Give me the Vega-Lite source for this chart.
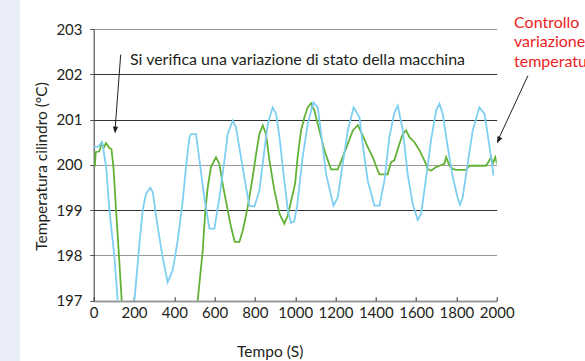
{
  "$schema": "https://vega.github.io/schema/vega-lite/v6.json",
  "autosize": "none",
  "width": 403,
  "height": 271.7,
  "padding": {"left": 93.7, "top": 29, "right": 88.3, "bottom": 60.3},
  "background": "white",
  "config": {"font": "Lato", "view": {"stroke": null}},
  "data": {"values": [{"note": "annotation"}]},
  "datasets": {
    "green": [
      {"t": 0, "T": 199.98}, {"t": 6, "T": 199.98}, {"t": 10, "T": 200.28}, {"t": 28, "T": 200.3},
      {"t": 40, "T": 200.48}, {"t": 50, "T": 200.38}, {"t": 61, "T": 200.48}, {"t": 78, "T": 200.37},
      {"t": 88, "T": 200.35}, {"t": 98, "T": 199.95}, {"t": 111, "T": 199.0}, {"t": 124, "T": 198.1},
      {"t": 139, "T": 197.0}, {"t": 300, "T": 195.5}, {"t": 516, "T": 197.0}, {"t": 541, "T": 198.1},
      {"t": 554, "T": 199.0}, {"t": 566, "T": 199.5}, {"t": 582, "T": 199.95}, {"t": 607, "T": 200.17},
      {"t": 624, "T": 200.02}, {"t": 640, "T": 199.58}, {"t": 665, "T": 199.0}, {"t": 682, "T": 198.62},
      {"t": 700, "T": 198.3}, {"t": 723, "T": 198.3}, {"t": 740, "T": 198.55}, {"t": 764, "T": 199.06},
      {"t": 789, "T": 199.73}, {"t": 806, "T": 200.24}, {"t": 822, "T": 200.68}, {"t": 839, "T": 200.87},
      {"t": 855, "T": 200.68}, {"t": 872, "T": 200.1}, {"t": 897, "T": 199.43}, {"t": 922, "T": 198.92},
      {"t": 946, "T": 198.7}, {"t": 963, "T": 198.88}, {"t": 988, "T": 199.36}, {"t": 1000, "T": 199.6},
      {"t": 1012, "T": 200.17}, {"t": 1029, "T": 200.76}, {"t": 1046, "T": 201.05}, {"t": 1062, "T": 201.27},
      {"t": 1079, "T": 201.36}, {"t": 1095, "T": 201.2}, {"t": 1112, "T": 200.9}, {"t": 1129, "T": 200.61},
      {"t": 1145, "T": 200.32}, {"t": 1162, "T": 200.1}, {"t": 1178, "T": 199.9}, {"t": 1211, "T": 199.9},
      {"t": 1236, "T": 200.17}, {"t": 1261, "T": 200.46}, {"t": 1286, "T": 200.76}, {"t": 1311, "T": 200.88},
      {"t": 1335, "T": 200.65}, {"t": 1360, "T": 200.39}, {"t": 1385, "T": 200.17}, {"t": 1410, "T": 199.87},
      {"t": 1418, "T": 199.79}, {"t": 1459, "T": 199.79}, {"t": 1476, "T": 200.06}, {"t": 1492, "T": 200.1},
      {"t": 1517, "T": 200.46}, {"t": 1534, "T": 200.68}, {"t": 1550, "T": 200.76}, {"t": 1567, "T": 200.61},
      {"t": 1592, "T": 200.5}, {"t": 1617, "T": 200.32}, {"t": 1641, "T": 200.1}, {"t": 1658, "T": 199.91},
      {"t": 1674, "T": 199.87}, {"t": 1699, "T": 199.95}, {"t": 1716, "T": 199.98}, {"t": 1740, "T": 200.02},
      {"t": 1749, "T": 200.17}, {"t": 1766, "T": 199.98}, {"t": 1782, "T": 199.91}, {"t": 1798, "T": 199.89},
      {"t": 1848, "T": 199.89}, {"t": 1865, "T": 199.98}, {"t": 1947, "T": 199.98}, {"t": 1964, "T": 200.1},
      {"t": 1972, "T": 200.17}, {"t": 1980, "T": 200.02}, {"t": 1993, "T": 200.17}, {"t": 2002, "T": 200.02}
    ],
    "blue": [
      {"t": 0, "T": 200.39}, {"t": 20, "T": 200.4}, {"t": 42, "T": 200.5}, {"t": 62, "T": 199.95},
      {"t": 78, "T": 199.0}, {"t": 103, "T": 197.96}, {"t": 119, "T": 197.0}, {"t": 160, "T": 196.3},
      {"t": 202, "T": 197.0}, {"t": 227, "T": 198.26}, {"t": 243, "T": 199.0}, {"t": 260, "T": 199.37},
      {"t": 281, "T": 199.49}, {"t": 293, "T": 199.4}, {"t": 318, "T": 198.62}, {"t": 342, "T": 197.96},
      {"t": 367, "T": 197.41}, {"t": 392, "T": 197.67}, {"t": 417, "T": 198.33}, {"t": 442, "T": 199.21},
      {"t": 458, "T": 199.95}, {"t": 475, "T": 200.61}, {"t": 483, "T": 200.68}, {"t": 508, "T": 200.68},
      {"t": 525, "T": 200.1}, {"t": 549, "T": 199.28}, {"t": 574, "T": 198.59}, {"t": 599, "T": 198.59},
      {"t": 624, "T": 199.28}, {"t": 649, "T": 200.1}, {"t": 665, "T": 200.68}, {"t": 690, "T": 200.98},
      {"t": 706, "T": 200.83}, {"t": 731, "T": 200.17}, {"t": 756, "T": 199.5}, {"t": 773, "T": 199.1},
      {"t": 798, "T": 199.08}, {"t": 822, "T": 199.43}, {"t": 847, "T": 200.32}, {"t": 864, "T": 200.9},
      {"t": 888, "T": 201.27}, {"t": 905, "T": 201.13}, {"t": 922, "T": 200.61}, {"t": 946, "T": 199.65},
      {"t": 965, "T": 198.95}, {"t": 980, "T": 198.72}, {"t": 995, "T": 198.75}, {"t": 1010, "T": 199.1},
      {"t": 1037, "T": 200.17}, {"t": 1062, "T": 200.9}, {"t": 1090, "T": 201.38}, {"t": 1112, "T": 201.27},
      {"t": 1129, "T": 200.68}, {"t": 1153, "T": 199.8}, {"t": 1190, "T": 199.1}, {"t": 1211, "T": 199.28},
      {"t": 1236, "T": 200.02}, {"t": 1261, "T": 200.76}, {"t": 1290, "T": 201.27}, {"t": 1319, "T": 201.05},
      {"t": 1335, "T": 200.46}, {"t": 1360, "T": 199.65}, {"t": 1393, "T": 199.1}, {"t": 1418, "T": 199.1},
      {"t": 1443, "T": 199.65}, {"t": 1467, "T": 200.6}, {"t": 1492, "T": 201.15}, {"t": 1509, "T": 201.31},
      {"t": 1534, "T": 200.76}, {"t": 1558, "T": 199.8}, {"t": 1583, "T": 199.14}, {"t": 1608, "T": 198.78},
      {"t": 1625, "T": 198.92}, {"t": 1650, "T": 199.73}, {"t": 1674, "T": 200.54}, {"t": 1699, "T": 201.2},
      {"t": 1716, "T": 201.35}, {"t": 1732, "T": 201.13}, {"t": 1757, "T": 200.39}, {"t": 1782, "T": 199.73},
      {"t": 1806, "T": 199.28}, {"t": 1818, "T": 199.12}, {"t": 1831, "T": 199.28}, {"t": 1856, "T": 200.02},
      {"t": 1881, "T": 200.76}, {"t": 1914, "T": 201.27}, {"t": 1939, "T": 201.13}, {"t": 1955, "T": 200.68},
      {"t": 1972, "T": 200.17}, {"t": 1984, "T": 199.76}
    ]
  },
  "layer": [
    {
      "mark": {"type": "rect", "color": "#e9eef8", "clip": false},
      "encoding": {
        "x": {"datum": -470, "type": "quantitative"},
        "x2": {"datum": -366},
        "y": {"datum": 195.4, "type": "quantitative"},
        "y2": {"datum": 204}
      }
    },
    {
      "data": {"name": "green"},
      "mark": {"type": "line", "color": "#62b236", "strokeWidth": 1.8, "clip": true},
      "encoding": {
        "x": {
          "field": "t", "type": "quantitative",
          "scale": {"domain": [0, 2000], "nice": false, "zero": false},
          "axis": {
            "values": [0, 200, 400, 600, 800, 1000, 1200, 1400, 1600, 1800, 2000],
            "format": "d", "labelOverlap": false, "labelFlush": false,
            "title": "Tempo (S)", "grid": false, "domain": false,
            "tickSize": -4, "tickColor": "#333", "labelPadding": 9,
            "labelFontSize": 15, "labelColor": "#231f20",
            "titleFontSize": 15.5, "titleFontWeight": "normal", "titleColor": "#231f20",
            "titleX": 176, "titleY": 51, "titleBaseline": "middle", "titleAlign": "center"
          }
        },
        "y": {
          "field": "T", "type": "quantitative",
          "scale": {"domain": [197, 203], "nice": false, "zero": false},
          "axis": {
            "values": [197, 198, 199, 200, 201, 202, 203],
            "labelOverlap": false, "labelFlush": false,
            "title": "Temperatura cilindro (°C)",
            "grid": true,
            "gridColor": {"condition": {"test": "datum.value == 201 || datum.value == 199 || datum.value == 202", "value": "#333"}, "value": "#999"},
            "gridWidth": {"condition": {"test": "datum.value == 197", "value": 2}, "value": 1},
            "domainColor": "#333", "tickColor": "#555", "tickSize": 4, "labelPadding": 7.7,
            "labelFontSize": 15, "labelColor": "#231f20",
            "titleFontSize": 15.5, "titleFontWeight": "normal", "titleColor": "#231f20",
            "titleX": -52, "titleY": 137, "titleBaseline": "middle", "titleAlign": "center", "titleAngle": 270
          }
        }
      }
    },
    {
      "data": {"name": "blue"},
      "mark": {"type": "line", "color": "#7fcff2", "strokeWidth": 1.8, "clip": true},
      "encoding": {
        "x": {"field": "t", "type": "quantitative"},
        "y": {"field": "T", "type": "quantitative"}
      }
    },
    {
      "mark": {"type": "rule", "color": "#231f20", "strokeWidth": 1, "clip": false},
      "encoding": {
        "x": {"datum": 134, "type": "quantitative"},
        "y": {"datum": 202.435, "type": "quantitative"},
        "x2": {"datum": 105.7},
        "y2": {"datum": 200.75}
      }
    },
    {
      "mark": {"type": "point", "shape": "M-0.75,-2L0.75,-2L0,0Z", "size": 49, "filled": true, "color": "#231f20", "opacity": 1, "angle": 4, "clip": false},
      "encoding": {
        "x": {"datum": 105.7, "type": "quantitative"},
        "y": {"datum": 200.69, "type": "quantitative"}
      }
    },
    {
      "mark": {"type": "rule", "color": "#231f20", "strokeWidth": 1, "clip": false},
      "encoding": {
        "x": {"datum": 2155, "type": "quantitative"},
        "y": {"datum": 201.97, "type": "quantitative"},
        "x2": {"datum": 2004},
        "y2": {"datum": 200.52}
      }
    },
    {
      "mark": {"type": "point", "shape": "M-0.75,-2L0.75,-2L0,0Z", "size": 49, "filled": true, "color": "#231f20", "opacity": 1, "angle": 24.5, "clip": false},
      "encoding": {
        "x": {"datum": 2001.5, "type": "quantitative"},
        "y": {"datum": 200.47, "type": "quantitative"}
      }
    },
    {
      "mark": {"type": "text", "text": "Si verifica una variazione di stato della macchina", "align": "left", "baseline": "alphabetic", "fontSize": 16, "color": "#231f20", "clip": false},
      "encoding": {
        "x": {"datum": 180, "type": "quantitative"},
        "y": {"datum": 202.214, "type": "quantitative"}
      }
    },
    {
      "mark": {"type": "text", "text": ["Controllo", "variazione", "temperatura"], "align": "left", "baseline": "alphabetic", "fontSize": 16, "lineHeight": 19.8, "color": "#ed1c24", "clip": false},
      "encoding": {
        "x": {"datum": 2086, "type": "quantitative"},
        "y": {"datum": 203.03, "type": "quantitative"}
      }
    }
  ]
}
